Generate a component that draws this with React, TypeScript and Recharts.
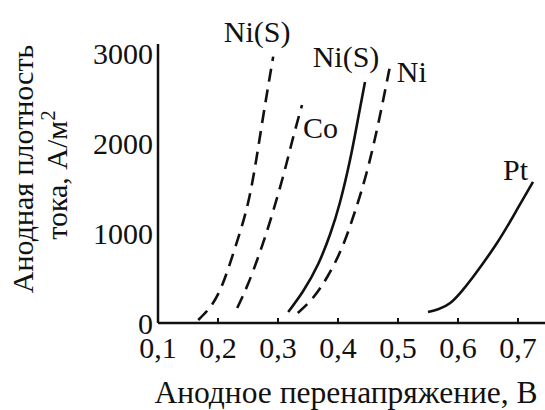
import { LineChart, Line, XAxis, YAxis, Label } from 'recharts';

const xTicks = [0.1, 0.2, 0.3, 0.4, 0.5, 0.6, 0.7];
const yTicks = [0, 1000, 2000, 3000];

// Ni(S), dashed, left
const niSDashedX = [0.167, 0.187, 0.207, 0.23, 0.253, 0.273, 0.292];
const niSDashedY = [33, 178, 422, 867, 1422, 2200, 2960];

// Co, dashed
const coX = [0.232, 0.25, 0.27, 0.29, 0.31, 0.325, 0.34];
const coY = [167, 433, 789, 1200, 1667, 2056, 2422];

// Ni(S), solid
const niSSolidX = [0.317, 0.342, 0.367, 0.387, 0.403, 0.42, 0.433, 0.445];
const niSSolidY = [122, 356, 656, 989, 1333, 1811, 2256, 2678];

// Ni, dashed
const niX = [0.333, 0.358, 0.383, 0.407, 0.428, 0.448, 0.468, 0.488];
const niY = [111, 278, 522, 844, 1233, 1678, 2244, 2900];

// Pt, solid
const ptX = [0.55, 0.568, 0.587, 0.605, 0.625, 0.665, 0.698, 0.725];
const ptY = [122, 156, 222, 344, 511, 889, 1256, 1567];

const toPoints = (xs: number[], ys: number[]) => xs.map((x, i) => ({ x, y: ys[i] }));

const FONT = 'Liberation Serif';
const INK = '#111';
const txt = { fontFamily: FONT };

function endLabel(text: string, last: number, dx: number, dy: number, anchor: 'start' | 'middle' | 'end') {
  return (p: any) => {
    if (p.index !== last) return null;
    return (
      <text x={p.x + dx} y={p.y + dy} textAnchor={anchor} style={txt} fontSize={30} fill={INK}>
        {text}
      </text>
    );
  };
}

export default function App() {
  return (
    <div style={{ position: 'absolute', left: 0, top: 0, background: '#fff' }}>
      <LineChart width={545} height={410} margin={{ top: 44, right: 0, bottom: 57, left: 98 }}>
        <XAxis
          type="number"
          dataKey="x"
          domain={[0.1, 0.745]}
          ticks={xTicks}
          tickFormatter={(v: number) => v.toFixed(1).replace('.', ',')}
          height={30}
          tickSize={-5}
          tickMargin={19}
          axisLine={{ stroke: INK, strokeWidth: 2.5 }}
          tickLine={{ stroke: INK, strokeWidth: 2 }}
          tick={{ fill: INK, fontSize: 30, style: txt }}
          allowDataOverflow
        >
          <Label
            content={() => (
              <text x={346} y={403} textAnchor="middle" style={txt} fontSize={31.5} fill={INK}>
                Анодное перенапряжение, В
              </text>
            )}
          />
        </XAxis>
        <YAxis
          type="number"
          domain={[0, 3100]}
          ticks={yTicks}
          width={60}
          tickSize={0}
          tickMargin={5}
          tickLine={false}
          axisLine={{ stroke: INK, strokeWidth: 2.5 }}
          tick={{ fill: INK, fontSize: 30, style: txt }}
          allowDataOverflow
        >
          <Label
            content={() => (
              <g style={txt} fontSize={30} fill={INK}>
                <text x={33} y={169} textAnchor="middle" transform="rotate(-90 33 169)">
                  Анодная плотность
                </text>
                <text x={67} y={175} textAnchor="middle" transform="rotate(-90 67 175)">
                  тока, А/м<tspan dy={-12} fontSize={21}>2</tspan>
                </text>
              </g>
            )}
          />
        </YAxis>
        <Line
          data={toPoints(niSDashedX, niSDashedY)}
          dataKey="y"
          type="natural"
          stroke={INK}
          strokeWidth={2.6}
          strokeDasharray="13 8"
          dot={false}
          isAnimationActive={false}
          label={endLabel('Ni(S)', niSDashedX.length - 1, -16, -15, 'middle')}
        />
        <Line
          data={toPoints(coX, coY)}
          dataKey="y"
          type="natural"
          stroke={INK}
          strokeWidth={2.6}
          strokeDasharray="13 8"
          dot={false}
          isAnimationActive={false}
          label={endLabel('Co', coX.length - 1, 1, 33, 'start')}
        />
        <Line
          data={toPoints(niSSolidX, niSSolidY)}
          dataKey="y"
          type="natural"
          stroke={INK}
          strokeWidth={2.6}
          dot={false}
          isAnimationActive={false}
          label={endLabel('Ni(S)', niSSolidX.length - 1, -19, -15, 'middle')}
        />
        <Line
          data={toPoints(niX, niY)}
          dataKey="y"
          type="natural"
          stroke={INK}
          strokeWidth={2.6}
          strokeDasharray="13 8"
          dot={false}
          isAnimationActive={false}
          label={endLabel('Ni', niX.length - 1, 6, 20, 'start')}
        />
        <Line
          data={toPoints(ptX, ptY)}
          dataKey="y"
          type="natural"
          stroke={INK}
          strokeWidth={2.6}
          dot={false}
          isAnimationActive={false}
          label={endLabel('Pt', ptX.length - 1, -5, -2, 'end')}
        />
      </LineChart>
    </div>
  );
}
